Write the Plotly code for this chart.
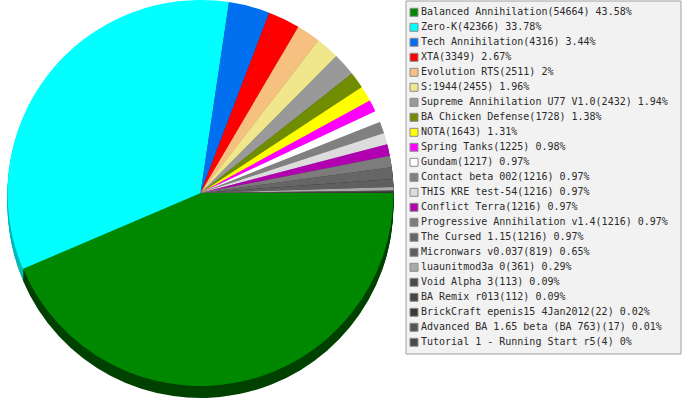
import plotly.graph_objects as go

# data
labels = [
    "Balanced Annihilation", "Zero-K", "Tech Annihilation", "XTA",
    "Evolution RTS", "S:1944", "Supreme Annihilation U77 V1.0",
    "BA Chicken Defense", "NOTA", "Spring Tanks", "Gundam",
    "Contact beta 002", "THIS KRE test-54", "Conflict Terra",
    "Progressive Annihilation v1.4", "The Cursed 1.15", "Micronwars v0.037",
    "luaunitmod3a 0", "Void Alpha 3", "BA Remix r013",
    "BrickCraft epenis15 4Jan2012", "Advanced BA 1.65 beta (BA 763)",
    "Tutorial 1 - Running Start r5",
]
counts = [
    54664, 42366, 4316, 3349, 2511, 2455, 2432, 1728, 1643, 1225, 1217,
    1216, 1216, 1216, 1216, 1216, 819, 361, 113, 112, 22, 17, 4,
]
colors = [
    "#008800", "#00ffff", "#0070f0", "#ff0000", "#f5c080", "#f0e68c",
    "#999999", "#708c00", "#ffff00", "#ff00ff", "#ffffff", "#808080",
    "#dcdcdc", "#b000b0", "#7c7c7c", "#666666", "#5f5f5f", "#aaaaaa",
    "#4a4a4a", "#444444", "#3a3a3a", "#555555", "#4a4a4a",
]

W, H = 683, 400
total = sum(counts)
legend_text = [
    f"{lab}({c}) {round(100 * c / total, 2):g}%" for lab, c in zip(labels, counts)
]


def shade(hexcol, amount=70):
    # darker tone for the pie's side wall
    rgb = [int(hexcol[i:i + 2], 16) for i in (1, 3, 5)]
    return "rgb({},{},{})".format(*[max(0, v - amount) for v in rgb])


# pie geometry in pixels
cx, cy, r = 200.5, 193, 193
depth = 12


def pie_domain(dy):
    return dict(
        x=[(cx - r) / W, (cx + r) / W],
        y=[(H - cy - dy - r) / H, (H - cy - dy + r) / H],
    )


fig = go.Figure()

# stacked copies below the top face give the 3d thickness
for k in range(depth, 0, -1):
    fig.add_trace(go.Pie(
        values=counts,
        labels=labels,
        marker=dict(colors=[shade(c) for c in colors], line=dict(width=0)),
        sort=False,
        direction="clockwise",
        rotation=90,
        textinfo="none",
        hoverinfo="skip",
        showlegend=False,
        domain=pie_domain(k),
    ))

fig.add_trace(go.Pie(
    values=counts,
    labels=labels,
    marker=dict(colors=colors, line=dict(width=0)),
    sort=False,
    direction="clockwise",
    rotation=90,
    textinfo="none",
    showlegend=False,
    domain=pie_domain(0),
))

# hand-built legend (plotly's own legend rows are too tall for 23 entries)
idx = list(range(len(labels)))
fig.add_trace(go.Scatter(
    x=[414] * len(idx),
    y=idx,
    mode="markers",
    marker=dict(symbol="square", size=8, color=colors,
                line=dict(color="#8c8c8c", width=1)),
    hoverinfo="skip",
    showlegend=False,
))
fig.add_trace(go.Scatter(
    x=[421] * len(idx),
    y=idx,
    mode="text",
    text=legend_text,
    textposition="middle right",
    textfont=dict(family="DejaVu Sans Mono", size=10, color="#2a2a2a"),
    hoverinfo="skip",
    showlegend=False,
))

fig.add_shape(
    type="rect", xref="paper", yref="paper",
    x0=406 / W, x1=681 / W, y0=(H - 354) / H, y1=(H - 1) / H,
    fillcolor="#f2f2f2", line=dict(color="#a0a0a0", width=1),
    layer="below",
)

fig.update_layout(
    width=W,
    height=H,
    margin=dict(l=0, r=0, t=0, b=0),
    paper_bgcolor="white",
    plot_bgcolor="rgba(0,0,0,0)",
    xaxis=dict(range=[0, W], visible=False, fixedrange=True),
    yaxis=dict(range=[(H - 12.3) / 15, -12.3 / 15], visible=False, fixedrange=True),
    showlegend=False,
)

# drop the default body margin so the figure sits flush in the window
fig.write_html(
    "out.html",
    config={"displayModeBar": False},
    post_script="document.body.style.margin='0';",
)
